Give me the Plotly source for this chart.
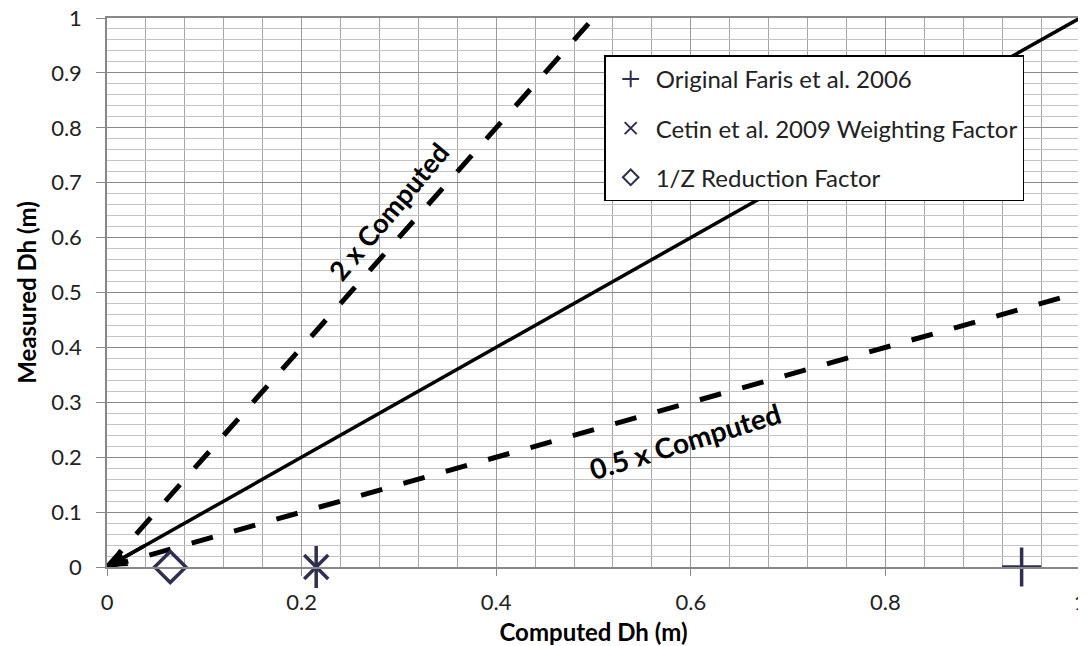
import plotly.graph_objects as go

# Data
ref_x = [0, 1]
ref_y = [0, 1]
twice_x = [0, 0.5]
twice_y = [0, 1]
half_x = [0, 1]
half_y = [0, 0.5]

faris_x = [0.94]
faris_y = [0.0]
cetin_x = [0.215]
cetin_y = [0.0]
rz_x = [0.065]
rz_y = [0.0]

x_ticks = [0, 0.2, 0.4, 0.6, 0.8, 1]
x_labels = ["0", "0.2", "0.4", "0.6", "0.8", "1"]
y_ticks = [0, 0.1, 0.2, 0.3, 0.4, 0.5, 0.6, 0.7, 0.8, 0.9, 1]
y_labels = ["0", "0.1", "0.2", "0.3", "0.4", "0.5", "0.6", "0.7", "0.8", "0.9", "1"]

FONT = "Lato, Calibri, Carlito, sans-serif"
MK = "#2f2f52"

fig = go.Figure()

fig.add_trace(go.Scatter(x=ref_x, y=ref_y, mode="lines",
                         line=dict(color="black", width=3.5), showlegend=False, hoverinfo="skip"))
fig.add_trace(go.Scatter(x=twice_x, y=twice_y, mode="lines",
                         line=dict(color="black", width=5, dash="22px,22px"), showlegend=False, hoverinfo="skip"))
fig.add_trace(go.Scatter(x=half_x, y=half_y, mode="lines",
                         line=dict(color="black", width=5, dash="22px,22px"), showlegend=False, hoverinfo="skip"))

fig.add_trace(go.Scatter(x=faris_x, y=faris_y, mode="markers", name="Original Faris et al. 2006",
                         legendgroup="a",
                         marker=dict(symbol="cross-thin-open", size=28, line=dict(color=MK, width=3.5), color=MK),
                         cliponaxis=False))
fig.add_trace(go.Scatter(x=cetin_x, y=cetin_y, mode="markers", name="Cetin et al. 2009 Weighting Factor",
                         legendgroup="b",
                         marker=dict(symbol="x-thin-open", size=24, line=dict(color=MK, width=3.5), color=MK),
                         cliponaxis=False))
fig.add_trace(go.Scatter(x=cetin_x, y=cetin_y, mode="markers", showlegend=False, legendgroup="b",
                         marker=dict(symbol="line-ns-open", size=30, line=dict(color=MK, width=3.5), color=MK),
                         cliponaxis=False))
fig.add_trace(go.Scatter(x=rz_x, y=rz_y, mode="markers", name="1/Z Reduction Factor",
                         legendgroup="c",
                         marker=dict(symbol="diamond-open", size=24, line=dict(color=MK, width=3.5), color=MK),
                         cliponaxis=False))

# arrowhead at origin on the 1:1 line
fig.add_annotation(x=ref_x[0], y=ref_y[0], ax=0.04, ay=0.04, xref="x", yref="y", axref="x", ayref="y",
                   showarrow=True, arrowhead=2, arrowsize=1.1, arrowwidth=3.5, arrowcolor="black", text="")

fig.add_annotation(x=0.289, y=0.648, text="<b>2 x Computed</b>", showarrow=False, textangle=-50,
                   font=dict(family=FONT, size=27, color="black"))
fig.add_annotation(x=0.594, y=0.23, text="<b>0.5 x Computed</b>", showarrow=False, textangle=-17,
                   font=dict(family=FONT, size=28, color="black"))

fig.update_xaxes(range=[0, 1], tickvals=x_ticks, ticktext=x_labels,
                 showgrid=True, gridcolor="#9a9a9a", gridwidth=1,
                 minor=dict(dtick=0.04, showgrid=True, gridcolor="#a5a5a5", gridwidth=1),
                 showline=True, linecolor="#888888", linewidth=1.5, mirror=True,
                 ticks="outside", ticklen=7, tickcolor="#888888",
                 ticklabelstandoff=8,
                 zeroline=False, automargin=False, ticklabeloverflow="allow",
                 tickfont=dict(family=FONT, size=22, color="#222"),
                 title=dict(text="<b>Computed Dh (m)</b>", font=dict(family=FONT, size=24, color="black"), standoff=14))
fig.update_yaxes(range=[0, 1], tickvals=y_ticks, ticktext=y_labels,
                 showgrid=True, gridcolor="#8a8a8a", gridwidth=1,
                 minor=dict(dtick=0.02, showgrid=True, gridcolor="#c4c4c4", gridwidth=1),
                 showline=True, linecolor="#888888", linewidth=1.5, mirror=True,
                 ticks="outside", ticklen=9, tickcolor="#888888",
                 ticklabelstandoff=10, automargin=False, ticklabeloverflow="allow",
                 zeroline=False,
                 tickfont=dict(family=FONT, size=22, color="#222"),
                 title=dict(text="<b>Measured Dh (m)</b>", font=dict(family=FONT, size=24, color="black"), standoff=8))

# the page body adds an 8px offset, so the figure is sized to the remaining window
fig.update_layout(
    width=1078, height=638,
    margin=dict(l=99, r=6, t=10, b=79),
    plot_bgcolor="white", paper_bgcolor="white",
    legend=dict(x=0.511, y=0.932, xanchor="left", yanchor="top",
                bgcolor="white", bordercolor="black", borderwidth=1.5,
                font=dict(family=FONT, size=24, color="#222"),
                itemsizing="constant", tracegroupgap=15,
                itemwidth=40),
)

fig.write_html("out.html")
